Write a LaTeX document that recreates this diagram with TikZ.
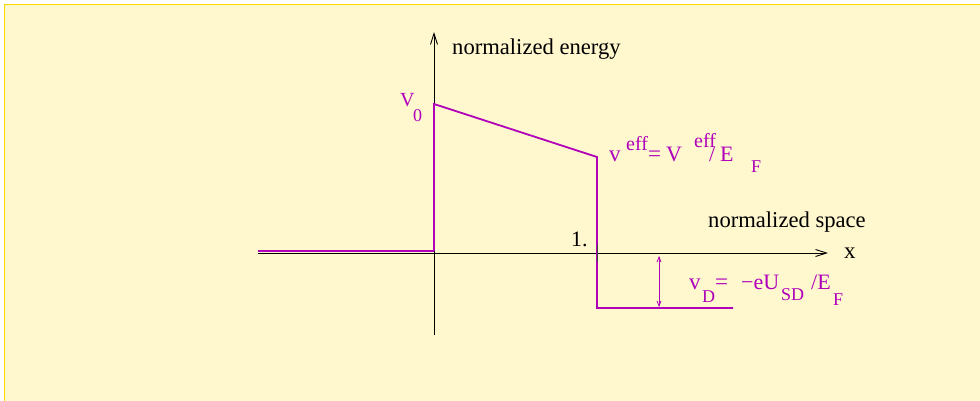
\documentclass[tikz,border=0pt]{standalone}
\usepackage{fontspec}
\setmainfont{Liberation Serif}
\usetikzlibrary{arrows.meta}
\definecolor{bgyellow}{RGB}{255,247,206}
\definecolor{frameyellow}{RGB}{255,215,0}
\definecolor{potpurple}{RGB}{176,0,186}
\begin{document}
\begin{tikzpicture}[x=1pt,y=-1pt,
  txt/.style={inner sep=0pt,anchor=base west,font=\fontsize{#1}{#1}\selectfont},
  ptxt/.style={txt=#1,text=potpurple},
  axis/.style={draw=black,line width=0.9pt},
  axisarrow/.style={axis,-{Straight Barb[length=11pt,width=7pt]}},
  profile/.style={draw=potpurple,line width=1.8pt},
  gap/.style={draw=potpurple,line width=0.8pt,{Straight Barb[length=5pt,width=4pt]}-{Straight Barb[length=5pt,width=4pt]}}
]
\useasboundingbox (0,0) rectangle (980,401);
\clip (0,0) rectangle (980,401);
\fill[white] (0,0) rectangle (980,401);
\filldraw[fill=bgyellow,draw=frameyellow,line width=1.6pt] (4.5,4.5) rectangle (1000,420);

% axes
\coordinate (yb) at (434,335);
\coordinate (yt) at (434,32);
\coordinate (xl) at (258,253);
\coordinate (xr) at (828,253);
\draw[axisarrow] (yb) -- (yt);
\draw[axisarrow] (xl) -- (xr);

% potential profile
\coordinate (p1) at (258,251);
\coordinate (p2) at (434,251);
\coordinate (p3) at (434,104);
\coordinate (p4) at (597,157);
\coordinate (p5) at (597,308);
\coordinate (p6) at (733,308);
\draw[profile,line width=1.1pt] (p1) -- (p2);
\draw[profile,line join=miter] (p2) -- (p3) -- (p4) -- (p5) -- (p6);

% tick at x = 1
\coordinate (t1) at (597,245);
\coordinate (t2) at (597,262);
\draw[draw=black!75,line width=1pt] (t1) -- (t2);

% bias arrow
\coordinate (a1) at (659,256);
\coordinate (a2) at (659,307);
\draw[gap] (a1) -- (a2);

% black labels
\node[txt=22.6] (ye) at (452,55) {normalized energy};
\node[txt=22.6] (xs) at (708,227) {normalized space};
\node[txt=23] (xx) at (844,258) {x};
\node[txt=22] (one) at (571,246) {1.};

% V0
\node[ptxt=20] (v0) at (400,107) {V};
\node[ptxt=18] (v0s) at (413,122) {0};

% v^eff = V^eff / E_F
\node[ptxt=23] (ve) at (609,161) {v};
\node[ptxt=20] (vee) at (626,150) {eff};
\node[ptxt=23] (veq) at (648,161) {=};
\node[ptxt=22] (VV) at (666,161) {V};
\node[ptxt=20] (VVe) at (694,148) {eff};
\node[ptxt=22] (sl) at (709,161) {/};
\node[ptxt=22] (EE) at (720,161) {E};
\node[ptxt=18] (EF) at (751,172) {F};

% v_D = -eU_SD / E_F
\node[ptxt=23] (vd) at (689,289) {v};
\node[ptxt=18] (vds) at (702,302) {D};
\node[ptxt=23] (vdeq) at (715,289) {=};
\node[ptxt=22] (eu) at (741,289) {−eU};
\node[ptxt=18] (sd) at (781,300) {SD};
\node[ptxt=22] (ef) at (811,289) {/E};
\node[ptxt=18] (efs) at (833,305) {F};
\end{tikzpicture}
\end{document}
